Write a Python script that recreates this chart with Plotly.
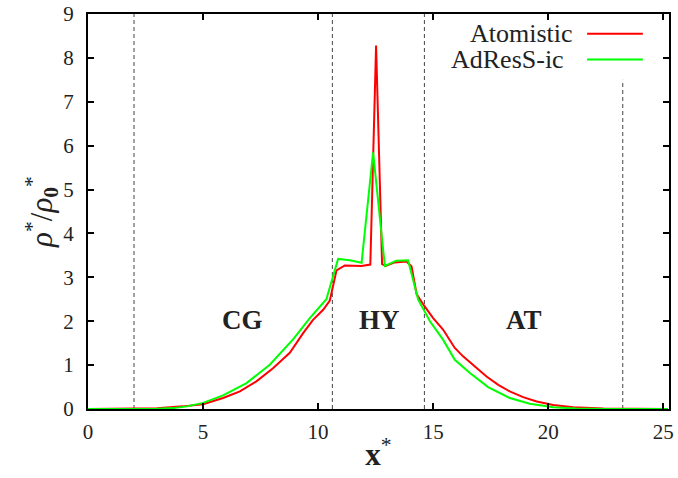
import plotly.graph_objects as go

# Density profiles along x* (reduced units)
x_atomistic = [0.0, 2.0, 3.0, 4.13, 5.0, 5.87, 6.6, 7.32, 8.04, 8.77, 9.35, 9.78,
               10.22, 10.51, 10.8, 11.16, 11.52, 11.88, 12.27, 12.52, 12.78, 12.94,
               13.33, 13.84, 14.06, 14.28, 14.6, 15.0, 15.43, 15.94, 16.3, 16.81,
               17.32, 17.83, 18.33, 18.91, 19.5, 20.22, 21.09, 22.4, 23.5, 25.2]
rho_atomistic = [0.0, 0.005, 0.015, 0.06, 0.11, 0.25, 0.4, 0.63, 0.93, 1.28, 1.73, 2.03,
                 2.26, 2.47, 3.16, 3.27, 3.27, 3.26, 3.29, 8.28, 3.30, 3.26,
                 3.34, 3.36, 3.25, 2.62, 2.36, 2.07, 1.81, 1.39, 1.2, 0.97,
                 0.74, 0.55, 0.4, 0.27, 0.17, 0.09, 0.04, 0.01, 0.004, 0.0]

x_adress = [0.0, 2.0, 3.0, 3.7, 4.3, 5.0, 5.87, 6.89, 7.9, 8.92, 9.64, 10.36, 10.65,
            10.87, 11.38, 11.89, 12.39, 12.9, 13.4, 13.91, 14.35, 14.86, 15.43,
            15.94, 16.6, 17.39, 18.33, 19.2, 20.22, 21.2, 22.5, 25.2]
rho_adress = [0.0, 0.0, 0.005, 0.02, 0.06, 0.14, 0.31, 0.59, 1.01, 1.59, 2.07, 2.5, 3.02,
              3.42, 3.39, 3.33, 5.85, 3.26, 3.38, 3.39, 2.49, 2.0, 1.58,
              1.12, 0.82, 0.5, 0.25, 0.12, 0.04, 0.01, 0.0, 0.0]

# Region boundaries (dashed) and region labels
boundaries = [2.0, 10.62, 14.62, 23.24]
boundary_tops = [9.0, 9.0, 9.0, 7.5]
region_names = ["CG", "HY", "AT"]
region_x = [6.73, 12.68, 18.94]
region_y = [2.03, 2.03, 2.03]

x_ticks = [0, 5, 10, 15, 20, 25]
y_ticks = [0, 1, 2, 3, 4, 5, 6, 7, 8, 9]

FONT = "Liberation Serif"
TEXT = "#222222"
RED = "#ff0000"
GREEN = "#00ff00"

fig = go.Figure()
fig.add_trace(go.Scatter(x=x_atomistic, y=rho_atomistic, mode="lines",
                         name="Atomistic", line=dict(color=RED, width=2)))
fig.add_trace(go.Scatter(x=x_adress, y=rho_adress, mode="lines",
                         name="AdResS-ic", line=dict(color=GREEN, width=2)))

for xb, yt in zip(boundaries, boundary_tops):
    fig.add_shape(type="line", xref="x", yref="y", x0=xb, x1=xb, y0=0, y1=yt,
                  line=dict(color="#444444", width=1, dash="4px,3px"), layer="below")

for name, rx, ry in zip(region_names, region_x, region_y):
    fig.add_annotation(x=rx, y=ry, xref="x", yref="y", text=f"<b>{name}</b>",
                       showarrow=False, font=dict(family=FONT, size=27, color=TEXT))

# Legend drawn with text on the left and line sample on the right
legend_entries = [("Atomistic", RED, 0.838, 0.950), ("AdResS-ic", GREEN, 0.823, 0.885)]
for label, color, tx, ty in legend_entries:
    fig.add_annotation(x=tx, y=ty, xref="paper", yref="paper", text=label,
                       xanchor="right", yanchor="middle", showarrow=False,
                       font=dict(family=FONT, size=26, color=TEXT))
    fig.add_shape(type="line", xref="paper", yref="paper", x0=0.859, x1=0.955,
                  y0=ty, y1=ty, line=dict(color=color, width=2))

axis_common = dict(showline=True, linecolor="black", linewidth=2, mirror="allticks",
                   ticks="inside", ticklen=6, tickwidth=1.5, tickcolor="black",
                   showgrid=False, zeroline=False, automargin=False,
                   tickfont=dict(family=FONT, size=21, color=TEXT))

fig.update_xaxes(range=[0, 25.25], tickvals=x_ticks, ticklabelstandoff=3,
                 title=dict(text="<b>x</b><sup>*</sup>", standoff=0,
                            font=dict(family=FONT, size=31, color=TEXT)),
                 **axis_common)
fig.update_yaxes(range=[0, 9], tickvals=y_ticks, ticklabelstandoff=8,
                 title=dict(text="<i>ρ</i><sup>*</sup>/<i>ρ</i><sub><b>0</b></sub><sup>*</sup>",
                            standoff=0,
                            font=dict(family=FONT, size=31, color=TEXT)),
                 **axis_common)

fig.update_layout(width=678, height=478, showlegend=False,
                  margin=dict(l=88, r=9, t=14, b=69),
                  plot_bgcolor="white", paper_bgcolor="white")

fig.write_html("out.html")
